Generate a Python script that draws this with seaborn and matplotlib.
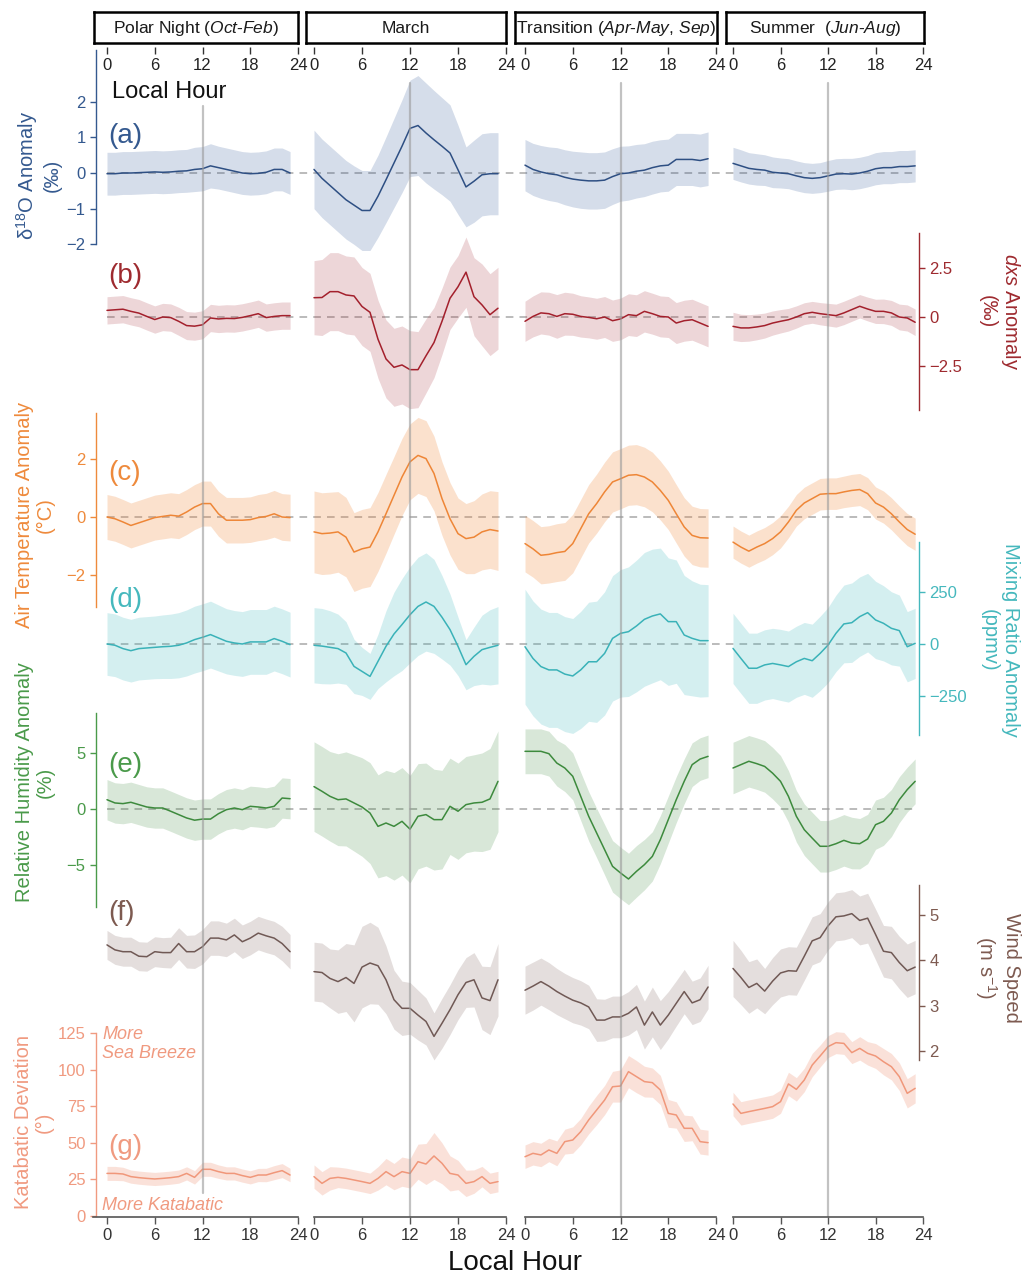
import matplotlib
matplotlib.use("Agg")
import matplotlib.pyplot as plt
import numpy as np
import pandas as pd
import seaborn as sns

# ---------------- data ----------------
HOURS = list(range(24))
TICK_HOURS = [0, 6, 12, 18, 24]
STRIP_LABELS = [r"Polar Night $\mathit{(Oct}$-$\mathit{Feb)}$", "March",
                r"Transition $\mathit{(Apr}$-$\mathit{May,\,Sep)}$",
                r"Summer  $\mathit{(Jun}$-$\mathit{Aug)}$"]

# (a) d18O anomaly (permil): mean and half-width of band
D18O_POLAR = [-0.02, -0.02, 0.0, 0.0, 0.01, 0.02, 0.03, 0.02, 0.03, 0.05, 0.06, 0.1, 0.12, 0.2, 0.15, 0.1, 0.05, 0.0, -0.02, -0.01, 0.02, 0.1, 0.1, 0.0]
D18O_POLAR_HW = [0.6, 0.6, 0.6, 0.6, 0.6, 0.6, 0.6, 0.6, 0.6, 0.6, 0.6, 0.62, 0.62, 0.62, 0.6, 0.6, 0.6, 0.6, 0.6, 0.6, 0.6, 0.6, 0.6, 0.6]
D18O_MARCH = [0.1, -0.15, -0.35, -0.55, -0.75, -0.9, -1.05, -1.05, -0.65, -0.19, 0.28, 0.75, 1.25, 1.33, 1.12, 0.93, 0.75, 0.56, 0.09, -0.39, -0.23, -0.05, -0.02, -0.02]
D18O_MARCH_HW = [1.1, 1.1, 1.1, 1.1, 1.1, 1.1, 1.12, 1.12, 1.15, 1.2, 1.25, 1.3, 1.35, 1.4, 1.4, 1.38, 1.36, 1.35, 1.25, 1.12, 1.15, 1.15, 1.15, 1.15]
D18O_TRANS = [0.22, 0.1, 0.03, -0.02, -0.05, -0.12, -0.17, -0.2, -0.22, -0.22, -0.2, -0.1, -0.02, 0.0, 0.05, 0.08, 0.15, 0.2, 0.22, 0.38, 0.38, 0.38, 0.35, 0.4]
D18O_TRANS_HW = [0.72, 0.73, 0.74, 0.75, 0.76, 0.77, 0.78, 0.79, 0.79, 0.79, 0.79, 0.78, 0.77, 0.76, 0.75, 0.74, 0.74, 0.73, 0.73, 0.73, 0.73, 0.73, 0.74, 0.75]
D18O_SUMMER = [0.27, 0.2, 0.13, 0.1, 0.08, 0.02, 0.0, -0.02, -0.08, -0.13, -0.15, -0.13, -0.08, -0.03, -0.02, -0.03, 0.0, 0.05, 0.12, 0.15, 0.15, 0.18, 0.18, 0.2]
D18O_SUMMER_HW = [0.45, 0.45, 0.44, 0.44, 0.43, 0.43, 0.42, 0.42, 0.42, 0.42, 0.42, 0.42, 0.43, 0.43, 0.43, 0.44, 0.44, 0.44, 0.45, 0.45, 0.45, 0.45, 0.45, 0.45]

# (b) dxs anomaly (permil)
DXS_POLAR = [0.34, 0.37, 0.4, 0.29, 0.2, 0.03, -0.13, 0.0, -0.03, -0.22, -0.44, -0.47, -0.4, -0.05, -0.1, -0.07, -0.08, -0.02, 0.07, 0.17, -0.03, 0.03, 0.07, 0.07]
DXS_POLAR_HW = [0.7, 0.7, 0.7, 0.7, 0.7, 0.7, 0.7, 0.7, 0.7, 0.72, 0.72, 0.72, 0.72, 0.7, 0.7, 0.7, 0.7, 0.7, 0.7, 0.7, 0.7, 0.7, 0.7, 0.7]
DXS_MARCH = [0.99, 1.0, 1.3, 1.3, 1.13, 1.08, 0.54, 0.24, -1.14, -2.15, -2.58, -2.46, -2.7, -2.7, -1.99, -1.31, -0.22, 0.96, 1.55, 2.3, 1.04, 0.62, 0.12, 0.45]
DXS_MARCH_HW = [1.9, 1.95, 2.0, 2.0, 2.0, 2.0, 2.0, 2.0, 2.0, 2.0, 2.0, 2.0, 2.0, 1.95, 1.9, 1.8, 1.7, 1.6, 1.6, 1.8, 2.0, 2.1, 2.1, 2.1]
DXS_TRANS = [-0.22, 0.03, 0.21, 0.17, 0.03, 0.17, 0.14, 0.03, -0.02, -0.09, 0.0, -0.19, -0.1, 0.12, 0.07, 0.29, 0.17, 0.03, 0.0, -0.31, -0.19, -0.14, -0.31, -0.48]
DXS_TRANS_HW = [1.03, 1.05, 1.08, 1.1, 1.12, 1.1, 1.08, 1.06, 1.05, 1.05, 1.05, 1.06, 1.07, 1.07, 1.07, 1.06, 1.05, 1.05, 1.05, 1.05, 1.05, 1.05, 1.05, 1.05]
DXS_SUMMER = [-0.48, -0.56, -0.56, -0.51, -0.44, -0.31, -0.22, -0.14, 0.0, 0.17, 0.24, 0.17, 0.12, 0.07, 0.21, 0.38, 0.55, 0.41, 0.29, 0.29, 0.21, 0.0, -0.05, -0.27]
DXS_SUMMER_HW = [0.72, 0.7, 0.68, 0.66, 0.64, 0.62, 0.6, 0.58, 0.57, 0.56, 0.56, 0.57, 0.58, 0.59, 0.6, 0.6, 0.6, 0.61, 0.62, 0.63, 0.64, 0.66, 0.67, 0.68]

# (c) air temperature anomaly (degC)
TEMP_POLAR = [0.0, -0.06, -0.17, -0.29, -0.2, -0.11, -0.02, 0.02, 0.06, 0.03, 0.17, 0.34, 0.46, 0.46, 0.11, -0.11, -0.11, -0.11, -0.09, -0.02, 0.02, 0.11, 0.0, -0.02]
TEMP_POLAR_HW = [0.77, 0.77, 0.77, 0.77, 0.77, 0.77, 0.77, 0.77, 0.77, 0.77, 0.77, 0.77, 0.77, 0.77, 0.77, 0.78, 0.78, 0.78, 0.78, 0.79, 0.79, 0.8, 0.8, 0.8]
TEMP_MARCH = [-0.51, -0.57, -0.55, -0.51, -0.69, -1.2, -1.09, -1.03, -0.51, 0.11, 0.74, 1.37, 1.89, 2.11, 2.0, 1.49, 0.63, -0.06, -0.57, -0.74, -0.69, -0.51, -0.43, -0.48]
TEMP_MARCH_HW = [1.4, 1.4, 1.4, 1.38, 1.36, 1.35, 1.35, 1.35, 1.35, 1.35, 1.33, 1.32, 1.3, 1.3, 1.3, 1.28, 1.26, 1.24, 1.22, 1.2, 1.25, 1.3, 1.33, 1.35]
TEMP_TRANS = [-0.91, -1.09, -1.31, -1.28, -1.22, -1.18, -0.91, -0.4, 0.11, 0.46, 0.86, 1.2, 1.31, 1.43, 1.45, 1.37, 1.2, 0.91, 0.57, 0.11, -0.34, -0.63, -0.71, -0.72]
TEMP_TRANS_HW = [0.97, 0.97, 0.98, 0.98, 0.99, 0.99, 1.0, 1.0, 1.0, 1.01, 1.02, 1.03, 1.03, 1.03, 1.03, 1.02, 1.02, 1.01, 1.0, 1.0, 1.0, 1.0, 1.0, 1.0]
TEMP_SUMMER = [-0.86, -1.03, -1.17, -1.03, -0.91, -0.74, -0.51, -0.17, 0.23, 0.48, 0.63, 0.78, 0.8, 0.8, 0.86, 0.91, 0.94, 0.8, 0.48, 0.34, 0.11, -0.17, -0.43, -0.59]
TEMP_SUMMER_HW = [0.55, 0.55, 0.55, 0.55, 0.55, 0.55, 0.55, 0.54, 0.54, 0.54, 0.54, 0.54, 0.54, 0.54, 0.54, 0.55, 0.55, 0.55, 0.55, 0.55, 0.55, 0.55, 0.55, 0.55]

# (d) mixing ratio anomaly (ppmv)
MR_POLAR = [0, -6, -22, -32, -22, -19, -16, -13, -11, -6, 5, 21, 32, 45, 29, 13, 5, 0, 10, 10, 10, 26, 13, -3]
MR_POLAR_HW = [150, 150, 150, 150, 150, 150, 150, 152, 154, 156, 158, 160, 160, 160, 158, 156, 155, 155, 155, 155, 155, 155, 155, 155]
MR_MARCH = [-6, -10, -16, -22, -43, -107, -131, -155, -83, -11, 48, 93, 140, 180, 201, 180, 128, 69, -11, -99, -59, -27, -16, -6]
MR_MARCH_HW = [180, 180, 175, 165, 150, 130, 115, 110, 130, 170, 200, 220, 230, 235, 235, 225, 200, 170, 140, 120, 140, 165, 180, 185]
MR_TRANS = [-13, -69, -108, -124, -124, -144, -153, -124, -85, -85, -45, 27, 51, 59, 86, 118, 134, 144, 107, 107, 43, 27, 16, 16]
MR_TRANS_HW = [275, 275, 275, 275, 275, 275, 275, 280, 285, 290, 295, 300, 305, 310, 315, 320, 320, 315, 305, 295, 285, 275, 270, 268]
MR_SUMMER = [-21, -69, -116, -116, -100, -93, -100, -108, -85, -69, -80, -45, -5, 51, 96, 102, 131, 150, 115, 99, 75, 64, -13, 3]
MR_SUMMER_HW = [168, 168, 168, 168, 168, 168, 170, 170, 170, 172, 175, 178, 180, 183, 186, 190, 190, 188, 185, 180, 175, 170, 168, 168]

# (e) relative humidity anomaly (%)
RH_POLAR = [0.83, 0.54, 0.48, 0.6, 0.39, 0.18, 0.09, 0.09, -0.2, -0.5, -0.8, -1.0, -0.9, -0.9, -0.42, -0.06, 0.09, -0.06, 0.24, 0.18, 0.09, 0.24, 0.98, 0.92]
RH_POLAR_HW = [1.8, 1.8, 1.8, 1.8, 1.8, 1.8, 1.8, 1.8, 1.8, 1.8, 1.8, 1.8, 1.8, 1.8, 1.8, 1.8, 1.8, 1.8, 1.8, 1.8, 1.8, 1.8, 1.8, 1.8]
RH_MARCH = [2.0, 1.58, 1.13, 0.83, 0.9, 0.54, 0.18, -0.36, -1.55, -1.25, -1.55, -1.1, -1.8, -0.65, -0.5, -0.95, -0.95, 0.24, -0.2, 0.39, 0.54, 0.6, 0.9, 2.47]
RH_MARCH_HW = [4.0, 4.0, 4.0, 4.1, 4.2, 4.3, 4.4, 4.5, 4.6, 4.7, 4.8, 4.8, 4.8, 4.7, 4.6, 4.5, 4.4, 4.3, 4.3, 4.3, 4.3, 4.4, 4.5, 4.5]
RH_TRANS = [5.15, 5.15, 5.15, 4.94, 4.1, 3.66, 2.92, 1.13, -0.65, -2.14, -3.63, -5.12, -5.71, -6.25, -5.57, -4.97, -4.23, -2.74, -0.95, 0.83, 2.47, 3.96, 4.46, 4.7]
RH_TRANS_HW = [2.0, 2.0, 2.0, 2.0, 2.05, 2.1, 2.1, 2.15, 2.2, 2.2, 2.25, 2.3, 2.3, 2.3, 2.3, 2.25, 2.2, 2.15, 2.1, 2.05, 2.0, 1.95, 1.9, 1.9]
RH_SUMMER = [3.66, 3.96, 4.26, 4.05, 3.8, 3.2, 2.47, 1.13, -0.65, -1.85, -2.6, -3.33, -3.33, -3.1, -2.8, -3.04, -3.1, -2.68, -1.4, -1.1, -0.36, 0.83, 1.73, 2.47]
RH_SUMMER_HW = [2.3, 2.3, 2.3, 2.3, 2.3, 2.3, 2.3, 2.3, 2.3, 2.3, 2.3, 2.3, 2.3, 2.3, 2.3, 2.3, 2.25, 2.2, 2.2, 2.15, 2.1, 2.05, 2.0, 2.0]

# (f) wind speed (m s-1)
WS_POLAR = [4.34, 4.23, 4.19, 4.19, 4.09, 4.08, 4.19, 4.17, 4.17, 4.37, 4.19, 4.19, 4.3, 4.49, 4.49, 4.45, 4.56, 4.41, 4.49, 4.6, 4.54, 4.49, 4.37, 4.19]
WS_POLAR_HW = [0.32, 0.32, 0.32, 0.32, 0.32, 0.32, 0.33, 0.33, 0.34, 0.35, 0.36, 0.37, 0.38, 0.38, 0.38, 0.37, 0.37, 0.37, 0.37, 0.37, 0.37, 0.37, 0.38, 0.38]
WS_MARCH = [3.75, 3.73, 3.6, 3.53, 3.62, 3.49, 3.85, 3.94, 3.88, 3.57, 3.13, 2.94, 2.94, 2.79, 2.65, 2.32, 2.61, 2.91, 3.24, 3.51, 3.57, 3.17, 3.11, 3.57]
WS_MARCH_HW = [0.65, 0.65, 0.65, 0.7, 0.75, 0.85, 0.9, 0.9, 0.85, 0.75, 0.65, 0.6, 0.57, 0.55, 0.52, 0.52, 0.55, 0.55, 0.55, 0.55, 0.6, 0.7, 0.75, 0.8]
WS_TRANS = [3.34, 3.43, 3.53, 3.43, 3.31, 3.21, 3.12, 3.06, 2.97, 2.68, 2.68, 2.75, 2.75, 2.83, 2.97, 2.57, 2.86, 2.57, 2.79, 3.05, 3.31, 3.06, 3.13, 3.41]
WS_TRANS_HW = [0.53, 0.53, 0.52, 0.52, 0.51, 0.5, 0.5, 0.49, 0.48, 0.47, 0.46, 0.46, 0.46, 0.48, 0.5, 0.53, 0.55, 0.54, 0.52, 0.5, 0.49, 0.48, 0.48, 0.48]
WS_SUMMER = [3.82, 3.62, 3.4, 3.49, 3.32, 3.54, 3.72, 3.77, 3.76, 4.09, 4.43, 4.5, 4.76, 4.96, 4.98, 5.03, 4.88, 4.93, 4.57, 4.2, 4.17, 3.95, 3.77, 3.85]
WS_SUMMER_HW = [0.62, 0.6, 0.57, 0.54, 0.5, 0.52, 0.53, 0.53, 0.53, 0.53, 0.53, 0.53, 0.53, 0.53, 0.53, 0.53, 0.54, 0.55, 0.56, 0.57, 0.58, 0.58, 0.59, 0.59]

# (g) katabatic deviation (degrees)
KD_POLAR = [29.1, 29.1, 28.7, 26.9, 26.2, 25.7, 25.3, 25.7, 26.2, 26.9, 29.1, 26.4, 31.9, 31.9, 30.3, 29.1, 29.1, 27.6, 26.4, 28.0, 28.0, 29.6, 31.0, 28.0]
KD_POLAR_HW = [4.8, 4.8, 4.6, 4.5, 4.5, 4.5, 4.5, 4.5, 4.5, 4.5, 4.5, 4.6, 4.8, 4.8, 4.6, 4.5, 4.5, 4.5, 4.5, 4.5, 4.6, 4.8, 4.8, 4.6]
KD_MARCH = [26.9, 22.3, 25.7, 26.4, 25.7, 24.6, 23.5, 22.3, 25.7, 30.3, 26.9, 30.3, 29.1, 37.1, 35.5, 41.0, 36.0, 29.1, 28.0, 22.3, 23.5, 26.9, 22.3, 23.5]
KD_MARCH_HW = [8, 8, 8, 7, 7, 7, 7, 7, 8, 9, 9, 10, 10, 12, 14, 16, 14, 12, 10, 9, 8, 7, 7, 7]
KD_TRANS = [40.5, 42.8, 41.7, 45.1, 42.8, 50.8, 51.9, 57.6, 65.6, 72.4, 79.2, 88.3, 88.8, 98.6, 95.2, 91.8, 91.1, 86.1, 70.1, 69.0, 59.9, 59.9, 50.8, 50.1]
KD_TRANS_HW = [8, 8, 8, 8, 8.5, 8.5, 9, 9, 9.5, 10, 10, 10.5, 11, 11, 11, 10.5, 10, 10, 9.5, 9, 9, 8.5, 8.5, 8.5]
KD_SUMMER = [76.5, 70.1, 71.3, 72.4, 73.5, 74.7, 78.1, 90.2, 86.5, 92.9, 103.1, 109.3, 115.7, 118.4, 117.9, 111.6, 114.5, 111.1, 109.3, 105.4, 102.0, 95.2, 83.8, 87.2]
KD_SUMMER_HW = [8, 8, 8, 8, 8, 8, 8, 8, 8, 8, 8, 7.5, 7.5, 7.5, 7.5, 7.5, 8, 8, 8.5, 9, 9, 9.5, 10, 10]

# ---------------- style ----------------
sns.set_theme(style="white")
plt.rcParams["font.family"] = ["Liberation Sans", "DejaVu Sans"]
plt.rcParams["mathtext.fontset"] = "custom"
plt.rcParams["mathtext.rm"] = "Liberation Sans"
plt.rcParams["mathtext.it"] = "Liberation Sans:italic"
plt.rcParams["mathtext.bf"] = "Liberation Sans:bold"
plt.rcParams["axes.unicode_minus"] = True

W, H = 1026, 1278
fig = plt.figure(figsize=(W / 100, H / 100), dpi=100)
fig.patch.set_facecolor("white")


def rect(x0, y0, x1, y1):
    return [x0 / W, 1 - y1 / H, (x1 - x0) / W, (y1 - y0) / H]


COL_X0 = [107, 314, 525, 733]
COL_PPH = [7.96, 8.0, 7.96, 7.92]
XLIM = (-1.5, 24.3)
STRIP_X = [(94, 298), (306, 506), (515, 717), (726, 924)]
SPINE_L, SPINE_R = 96, 919
TICK_FS = 12


def col_px(c):
    return COL_X0[c] + XLIM[0] * COL_PPH[c], COL_X0[c] + XLIM[1] * COL_PPH[c]


SPECS = [
    dict(means=[D18O_POLAR, D18O_MARCH, D18O_TRANS, D18O_SUMMER],
         hws=[D18O_POLAR_HW, D18O_MARCH_HW, D18O_TRANS_HW, D18O_SUMMER_HW],
         y0=173, s=35.7, top=40, bot=265, side="left",
         ticks=[-2, -1, 0, 1, 2], tlabels=["−2", "−1", "0", "1", "2"], bounds=(-2, 3.45),
         base="#2F5597", alpha=0.2, line="#2E4F83", axc="#34598F", dashed=True,
         letter="(a)", ly=136, label="δ$^{18}$O Anomaly\n(‰)", lx=38, lyc=175),
    dict(means=[DXS_POLAR, DXS_MARCH, DXS_TRANS, DXS_SUMMER],
         hws=[DXS_POLAR_HW, DXS_MARCH_HW, DXS_TRANS_HW, DXS_SUMMER_HW],
         y0=317, s=19.5, top=220, bot=425, side="right",
         ticks=[-2.5, 0, 2.5], tlabels=["−2.5", "0", "2.5"], bounds=(-4.77, 4.3),
         base="#A8323E", alpha=0.2, line="#A3202C", axc="#9E2A2F", dashed=True,
         letter="(b)", ly=276, label="$\\mathit{dxs}$ Anomaly\n(‰)", lx=1000, lyc=312),
    dict(means=[TEMP_POLAR, TEMP_MARCH, TEMP_TRANS, TEMP_SUMMER],
         hws=[TEMP_POLAR_HW, TEMP_MARCH_HW, TEMP_TRANS_HW, TEMP_SUMMER_HW],
         y0=517, s=29.2, top=395, bot=625, side="left",
         ticks=[-2, 0, 2], tlabels=["−2", "0", "2"], bounds=(-3.08, 3.56),
         base="#F0883A", alpha=0.25, line="#EE8637", axc="#EE8A3C", dashed=True,
         letter="(c)", ly=473, label="Air Temperature Anomaly\n(°C)", lx=35, lyc=515),
    dict(means=[MR_POLAR, MR_MARCH, MR_TRANS, MR_SUMMER],
         hws=[MR_POLAR_HW, MR_MARCH_HW, MR_TRANS_HW, MR_SUMMER_HW],
         y0=644, s=0.209, top=520, bot=760, side="right",
         ticks=[-250, 0, 250], tlabels=["−250", "0", "250"], bounds=(-435, 488),
         base="#3DB8BE", alpha=0.22, line="#3AB2B8", axc="#45B8BD", dashed=True,
         letter="(d)", ly=600, label="Mixing Ratio Anomaly\n(ppmv)", lx=1000, lyc=640),
    dict(means=[RH_POLAR, RH_MARCH, RH_TRANS, RH_SUMMER],
         hws=[RH_POLAR_HW, RH_MARCH_HW, RH_TRANS_HW, RH_SUMMER_HW],
         y0=809, s=11.2, top=690, bot=925, side="left",
         ticks=[-5, 0, 5], tlabels=["−5", "0", "5"], bounds=(-8.75, 8.57),
         base="#3C8A3C", alpha=0.2, line="#3D8A3D", axc="#4A9A4A", dashed=True,
         letter="(e)", ly=765, label="Relative Humidity Anomaly\n(%)", lx=35, lyc=782),
    dict(means=[WS_POLAR, WS_MARCH, WS_TRANS, WS_SUMMER],
         hws=[WS_POLAR_HW, WS_MARCH_HW, WS_TRANS_HW, WS_SUMMER_HW],
         y0=915 + 5 * 45.3, s=45.3, top=870, bot=1075, side="right",
         ticks=[2, 3, 4, 5], tlabels=["2", "3", "4", "5"], bounds=(1.8, 5.66),
         base="#7A5D57", alpha=0.2, line="#705955", axc="#7D5A50", dashed=False,
         letter="(f)", ly=913, label="Wind Speed\n(m s$^{-1}$)", lx=997, lyc=968),
    dict(means=[KD_POLAR, KD_MARCH, KD_TRANS, KD_SUMMER],
         hws=[KD_POLAR_HW, KD_MARCH_HW, KD_TRANS_HW, KD_SUMMER_HW],
         y0=1216, s=1.464, top=1020, bot=1217, side="left",
         ticks=[0, 25, 50, 75, 100, 125], tlabels=["0", "25", "50", "75", "100", "125"], bounds=(0, 125),
         base="#EE8A6A", alpha=0.25, line="#F0977A", axc="#F09A80", dashed=False,
         letter="(g)", ly=1147, label="Katabatic Deviation\n(°)", lx=34, lyc=1122),
]

# ---------------- per-variable axes ----------------
for k, sp in enumerate(SPECS):
    ylim = ((sp["y0"] - sp["bot"]) / sp["s"], (sp["y0"] - sp["top"]) / sp["s"])
    # wide axes carrying the variable's own y axis and zero reference line
    axw = fig.add_axes(rect(SPINE_L, sp["top"], SPINE_R, sp["bot"]), zorder=1)
    axw.patch.set_alpha(0)
    axw.set_xlim(0, 1)
    axw.set_ylim(*ylim)
    axw.set_xticks([])
    for nm in ["top", "bottom", "left", "right"]:
        axw.spines[nm].set_visible(False)
    sd = sp["side"]
    axw.spines[sd].set_visible(True)
    axw.spines[sd].set_color(sp["axc"])
    axw.spines[sd].set_linewidth(1.0)
    axw.spines[sd].set_bounds(*sp["bounds"])
    if sd == "left":
        axw.yaxis.tick_left()
    else:
        axw.yaxis.tick_right()
    axw.set_yticks(sp["ticks"])
    axw.set_yticklabels(sp["tlabels"])
    axw.tick_params(axis="y", which="both", direction="out", length=4.5, width=1.0,
                    color=sp["axc"], labelcolor=sp["axc"], labelsize=TICK_FS, pad=3,
                    left=(sd == "left"), right=(sd == "right"),
                    labelleft=(sd == "left"), labelright=(sd == "right"))
    if sp["dashed"]:
        axw.axhline(0, xmin=(COL_X0[0] - SPINE_L) / (SPINE_R - SPINE_L), xmax=0.995,
                    color="#A8A8A8", lw=1.1, ls=(0, (5, 4)), zorder=0)

    for c in range(4):
        x0, x1 = col_px(c)
        ax = fig.add_axes(rect(x0, sp["top"], x1, sp["bot"]), zorder=2)
        ax.patch.set_alpha(0)
        ax.set_xlim(*XLIM)
        ax.set_ylim(*ylim)
        m = np.array(sp["means"][c], dtype=float)
        hw = np.array(sp["hws"][c], dtype=float)
        ax.fill_between(HOURS, m - hw, m + hw, color=sp["base"], alpha=sp["alpha"], lw=0)
        df = pd.DataFrame({"hour": HOURS, "value": m})
        sns.lineplot(data=df, x="hour", y="value", ax=ax, color=sp["line"], lw=1.1, legend=False)
        ax.axis("off")

    fig.text(108 / W, 1 - sp["ly"] / H, sp["letter"], color=sp["axc"], fontsize=20,
             ha="left", va="center")
    rot = 90 if sd == "left" else -90
    fig.text(sp["lx"] / W, 1 - sp["lyc"] / H, sp["label"], color=sp["axc"], fontsize=14.5,
             rotation=rot, ha="center", va="center", multialignment="center", linespacing=1.15)

# ---------------- column frames ----------------
FRAME_TOP, FRAME_BOT = 47, 1217
for c in range(4):
    x0, x1 = col_px(c)
    axf = fig.add_axes(rect(x0, FRAME_TOP, x1, FRAME_BOT), zorder=3)
    axf.patch.set_alpha(0)
    axf.set_xlim(*XLIM)
    axf.set_ylim(0, 1)
    for nm in ["top", "left", "right"]:
        axf.spines[nm].set_visible(False)
    axf.spines["bottom"].set_color("#555555")
    axf.spines["bottom"].set_linewidth(1.2)
    axf.spines["bottom"].set_bounds(-1.75 if c == 0 else 0, 24)
    axf.set_yticks([])
    axf.set_xticks(TICK_HOURS)
    axf.set_xticklabels([str(t) for t in TICK_HOURS])
    axf.tick_params(axis="x", direction="out", length=5, width=1.0, color="#555555",
                    labelcolor="#333333", labelsize=TICK_FS, pad=3, bottom=True)
    vtop, vbot = (106, 1193) if c == 0 else (83, 1217)
    axf.axvline(12, ymin=(FRAME_BOT - vbot) / (FRAME_BOT - FRAME_TOP),
                ymax=(FRAME_BOT - vtop) / (FRAME_BOT - FRAME_TOP),
                color="#9A9A9A", alpha=0.6, lw=1.6)

    # top hour ticks (labels below the ticks, under the strip)
    axt = fig.add_axes(rect(x0, FRAME_TOP - 1, x1, FRAME_TOP), zorder=3)
    axt.patch.set_alpha(0)
    axt.set_xlim(*XLIM)
    for nm in ["top", "left", "right", "bottom"]:
        axt.spines[nm].set_visible(False)
    axt.set_yticks([])
    axt.set_xticks(TICK_HOURS)
    axt.set_xticklabels([str(t) for t in TICK_HOURS])
    axt.tick_params(axis="x", direction="out", length=5, width=1.0, color="#333333",
                    labelcolor="#222222", labelsize=TICK_FS, pad=3, bottom=True)

    # strip box
    sx0, sx1 = STRIP_X[c]
    axs = fig.add_axes(rect(sx0, 12, sx1, 43), zorder=4)
    axs.set_facecolor("white")
    axs.set_xticks([])
    axs.set_yticks([])
    for nm in ["top", "left", "right", "bottom"]:
        axs.spines[nm].set_visible(True)
        axs.spines[nm].set_color("black")
        axs.spines[nm].set_linewidth(1.8)
    axs.text(0.5, 0.47, STRIP_LABELS[c], transform=axs.transAxes, ha="center", va="center",
             fontsize=12.5, color="#1a1a1a")

# ---------------- extra text ----------------
fig.text(112 / W, 1 - 92 / H, "Local Hour", fontsize=17, color="#111111", ha="left", va="center")
fig.text(515 / W, 1 - 1263 / H, "Local Hour", fontsize=20, color="#111111", ha="center", va="center")
fig.text(102 / W, 1 - 1044 / H, "More\nSea Breeze", fontsize=13, color="#F09A80", style="italic",
         ha="left", va="center", linespacing=1.15)
fig.text(102 / W, 1 - 1205 / H, "More Katabatic", fontsize=13, color="#F09A80", style="italic",
         ha="left", va="center")

fig.savefig("out.png", dpi=100, facecolor="white")
